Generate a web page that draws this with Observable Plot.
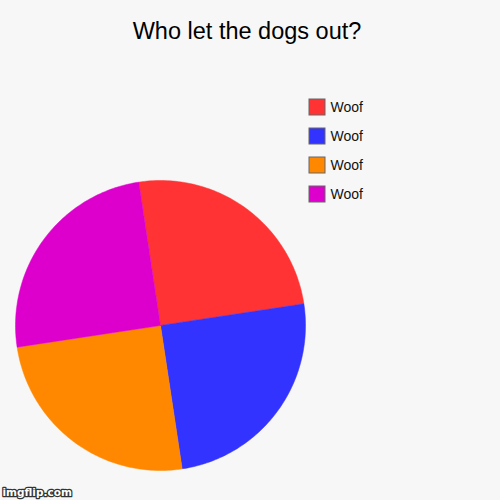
<!DOCTYPE html>
<html>
<head>
<meta charset="utf-8">
<script src="https://cdn.jsdelivr.net/npm/d3@7"></script>
<script src="https://cdn.jsdelivr.net/npm/@observablehq/plot@0.6"></script>
<style>
html, body { margin: 0; padding: 0; background: #f7f7f7; }
#chart svg { display: block; background: #f7f7f7; }
</style>
</head>
<body>
<div id="chart"></div>
<script>
const title = "Who let the dogs out?";
const categories = ["Woof", "Woof", "Woof", "Woof"];
const values = [25, 25, 25, 25];
const colors = ["#ff3333", "#3333ff", "#ff8800", "#dd00cc"];
const watermark = "imgflip.com";

// pie geometry (pixel space)
const cx = 160, cy = 325, r = 145;
const startDeg = -8.6;

const keys = categories.map((c, i) => `s${i}`);
const arcs = d3.pie().sort(null).startAngle(startDeg * Math.PI / 180)
  .endAngle((startDeg + 360) * Math.PI / 180)(values);

const pts = [];
arcs.forEach((a, i) => {
  const n = 80;
  pts.push({key: keys[i], x: cx, y: cy});
  for (let k = 0; k <= n; k++) {
    const t = a.startAngle + (a.endAngle - a.startAngle) * k / n;
    pts.push({key: keys[i], x: cx + r * Math.sin(t), y: cy - r * Math.cos(t)});
  }
  pts.push({key: keys[i], x: cx, y: cy});
});

const legend = categories.map((c, i) => ({key: keys[i], label: c, i}));
const lx = 309, ly = 99, lstep = 29, box = 16;

const plot = Plot.plot({
  width: 500,
  height: 500,
  margin: 0,
  style: {background: "#f7f7f7"},
  x: {domain: [0, 500], range: [0, 500], axis: null},
  y: {domain: [0, 500], range: [0, 500], axis: null},
  color: {domain: keys, range: colors},
  marks: [
    Plot.line(pts, {x: "x", y: "y", z: "key", fill: "key", stroke: "key", strokeWidth: 0.5, curve: "linear"}),
    Plot.rect(legend, {
      x1: () => lx, x2: () => lx + box,
      y1: d => ly + d.i * lstep, y2: d => ly + d.i * lstep + box,
      fill: "key", stroke: "#666", strokeWidth: 1
    }),
    Plot.text(legend, {
      x: () => lx + box + 5, y: d => ly + d.i * lstep + box / 2 + 0.5,
      text: "label", textAnchor: "start", fontSize: 14, fill: "#111",
      fontFamily: "Liberation Sans, Arial, sans-serif"
    }),
    Plot.text([title], {
      x: () => 246.5, y: () => 31, text: d => d, fontSize: 23.5, fill: "#000",
      fontFamily: "Liberation Sans, Arial, sans-serif"
    }),
    Plot.text([watermark], {
      x: () => 2, y: () => 492, text: d => d, textAnchor: "start", fontSize: 10.5,
      fontWeight: "bold", fill: "#fff", stroke: "#333", strokeWidth: 2.5,
      fontFamily: "DejaVu Sans, sans-serif"
    })
  ]
});
document.getElementById("chart").appendChild(plot);
</script>
</body>
</html>
